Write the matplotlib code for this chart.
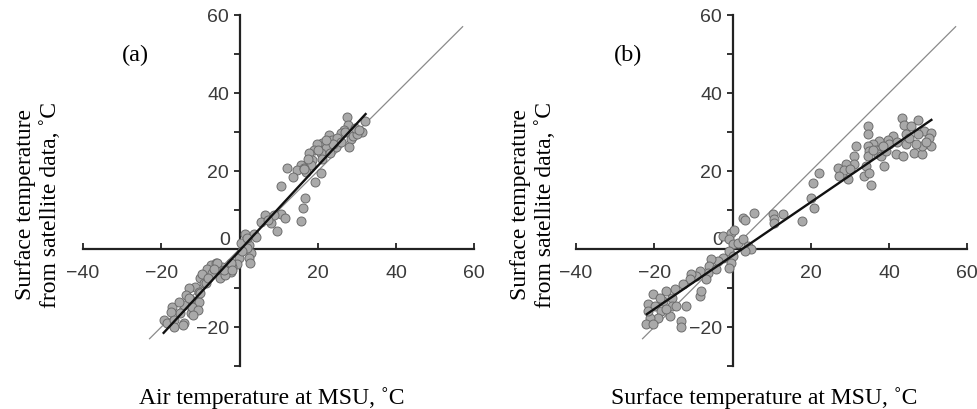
import matplotlib
matplotlib.use("Agg")
import matplotlib.pyplot as plt
import numpy as np

# ---------------- data ----------------
xa = [27.4, 27.7, 32.0, 31.4, 26.7, 25.8, 28.4, 28.0, 22.8, 23.7, 21.1, 19.9, 19.0, 22.0, 24.6,
      17.7, 20.7, 18.6, 18.2, 15.6, 14.8, 16.4, 17.1, 12.2, 13.7, 19.4, 20.7, 10.7, 16.7, 16.3,
      15.8, 10.7, 11.5, 9.6, 8.1, 6.6, 8.8, 5.4, 7.2, 25.0, 26.0, 29.0, 23.0, 21.0, 24.0, 30.0,
      27.0, 22.0, 20.0, 16.5, 17.5, 29.5, 30.5,
      1.5, 3.7, 0.3, 2.4, 2.8, 2.4, 2.6, 1.8, 4.1, 2.0, -0.2, -0.6, -1.9, -2.3, 0.5,
      -4.4, -5.3, -7.4, -6.1, -8.3, -7.0, -4.9, -3.6, -5.7, -4.0, -10.0, -9.1, -11.3, -10.4,
      -13.0, -13.8, -12.5, -14.2, -11.7, -10.4, -12.5, -15.1, -17.2, -17.6, -19.4, -18.5, -16.8,
      -14.2, -16.8, -14.4, -12.1, -10.5, -11.8, -10.0, -8.7, -2.3, -1.9, -6.5, -9.5, -8.0,
      -15.5, -13.0]
ya = [33.8, 31.8, 32.9, 30.1, 30.5, 29.7, 28.1, 26.2, 29.2, 27.9, 27.3, 26.8, 25.4, 25.8, 26.2,
      24.7, 24.5, 22.8, 21.5, 21.5, 20.3, 20.7, 19.8, 20.7, 18.4, 17.3, 19.4, 16.2, 13.2, 10.4,
      7.2, 9.0, 7.9, 4.6, 6.6, 8.7, 8.7, 7.0, 7.5, 28.5, 27.5, 29.0, 24.5, 23.0, 27.0, 29.5,
      30.0, 28.0, 25.5, 20.5, 23.0, 31.0, 30.5,
      3.8, 3.8, 1.5, 1.0, -1.1, -2.2, -3.5, 2.7, 3.2, 0.2, -2.4, -3.9, -4.5, -5.8, -0.5,
      -4.5, -5.4, -4.1, -3.7, -5.0, -6.2, -7.5, -6.7, -3.7, -5.4, -7.5, -8.8, -9.7, -11.0,
      -10.1, -11.8, -13.1, -14.4, -14.8, -13.5, -16.5, -16.5, -14.8, -16.1, -18.2, -19.1, -18.2,
      -19.1, -19.9, -19.5, -14.8, -15.6, -16.9, -11.4, -8.8, -3.7, -5.4, -5.0, -6.5, -7.5,
      -13.5, -12.5]

xb = [43.3, 47.5, 43.9, 45.6, 49.0, 50.7, 50.3, 47.3, 44.3, 40.9, 39.6, 37.5, 36.0, 34.5, 34.9,
      36.7, 37.1, 34.5, 37.9, 39.2, 41.8, 43.5, 44.3, 46.4, 48.5, 48.5, 50.7, 47.0, 34.5, 34.5,
      31.6, 31.1, 31.1, 29.0, 26.9, 28.6, 30.0, 27.3, 29.4, 34.1, 33.7, 34.9, 35.4, 38.8, 22.0,
      20.5, 20.1, 20.7, 17.8, 12.8, 10.3, 10.7, 10.5, 5.6, 2.6, 3.3, 40.0, 42.0, 45.0, 36.0,
      38.5, 49.5,
      -2.5, -0.3, 0.3, -0.8, 0.0, 1.4, 2.6, 3.9, 4.8, 3.1, -0.8, 0.0, -0.3, -0.8, -2.5, -3.7,
      -5.4, -5.9, -4.2, -6.3, -6.7, -8.4, -9.3, -10.5, -11.0, -8.2, -12.7, -14.8, -16.9, -15.6,
      -17.8, -20.3, -21.6, -19.9, -18.2, -15.6, -14.4, -16.1, -19.1, -21.2, -22.0, -20.3, -13.1,
      -13.1, -8.0, -18.5, -17.0, -21.5, -12.0]
yb = [33.7, 33.0, 31.8, 31.5, 30.3, 29.8, 28.5, 29.4, 29.6, 29.0, 27.9, 27.7, 27.0, 26.4, 25.1,
      25.3, 24.3, 23.8, 23.8, 25.1, 24.3, 23.8, 26.8, 24.7, 24.3, 26.4, 26.4, 27.0, 31.5, 29.6,
      26.4, 23.8, 21.7, 21.7, 20.8, 20.2, 20.5, 18.7, 17.9, 21.3, 18.7, 19.6, 16.4, 21.3, 19.6,
      17.0, 13.2, 10.4, 7.2, 9.1, 8.9, 7.6, 6.7, 9.3, 8.0, 7.4, 27.0, 27.5, 28.5, 25.5,
      26.5, 27.5,
      3.3, 4.2, 5.0, 2.5, 1.2, 1.6, 2.5, 0.8, -0.1, -0.5, -0.5, -1.8, -3.5, -4.8, -2.2, -3.1,
      -2.6, -4.4, -5.2, -6.1, -7.8, -5.6, -6.9, -6.5, -7.8, -12.0, -9.1, -10.3, -10.8, -12.5,
      -13.3, -11.6, -14.2, -14.6, -15.9, -14.6, -14.6, -17.2, -17.6, -17.6, -19.3, -19.3, -18.5,
      -19.9, -10.8, -12.5, -15.5, -16.0, -14.5]

# 1:1 lines and regression lines (end points)
one_a_x, one_a_y = [-23, 57], [-23, 57]
fit_a_x, fit_a_y = [-19.4, 32.2], [-21.5, 34.6]
one_b_x, one_b_y = [-23, 57], [-23, 57]
fit_b_x, fit_b_y = [-21.9, 50.8], [-16.7, 33.1]

x_major = [-40, -20, 20, 40, 60]
x_labels = ["\u221240", "\u221220", "20", "40", "60"]
y_all = [-30, -20, -10, 10, 20, 30, 40, 50, 60]
y_labeled = [-20, 20, 40, 60]

panels = [
    dict(x=xa, y=ya, one=(one_a_x, one_a_y), fit=(fit_a_x, fit_a_y), tag="(a)",
         xlabel="Air temperature at MSU, \u02daC", left=75.2),
    dict(x=xb, y=yb, one=(one_b_x, one_b_y), fit=(fit_b_x, fit_b_y), tag="(b)",
         xlabel="Surface temperature at MSU, \u02daC", left=568.2),
]

W, H = 978, 410
fig = plt.figure(figsize=(W / 100, H / 100), dpi=100)

serif = "Liberation Serif"
sans = "Liberation Sans"
axcol = "#222222"
tickcol = "#3a3a3a"

ylab_x = [38, 533]
xlab_x = [272, 764]

for i, p in enumerate(panels):
    left_px = p["left"]
    width_px = 407.0
    top_px, bot_px = 8.2, 374.8
    ax = fig.add_axes([left_px / W, (H - bot_px) / H, width_px / W, (bot_px - top_px) / H])
    ax.set_xlim(-42, 62)
    ax.set_ylim(-32, 62)

    for s in ["top", "right"]:
        ax.spines[s].set_visible(False)
    ax.spines["left"].set_position(("data", 0))
    ax.spines["bottom"].set_position(("data", 0))
    ax.spines["left"].set_bounds(-30, 60)
    ax.spines["bottom"].set_bounds(-40, 60)
    for s in ["left", "bottom"]:
        ax.spines[s].set_linewidth(1.6)
        ax.spines[s].set_color(axcol)

    ax.set_xticks(x_major)
    ax.set_xticklabels(x_labels)
    ax.tick_params(axis="x", direction="in", length=4.5, width=1.3, color=axcol,
                   pad=11, labelsize=14, labelcolor=tickcol)
    ax.set_yticks(y_all)
    ax.set_yticklabels(["" if v not in y_labeled else ("\u221220" if v < 0 else str(v))
                        for v in y_all])
    ax.tick_params(axis="y", direction="out", length=4.5, width=1.3, color=axcol,
                   pad=3, labelsize=14, labelcolor=tickcol)
    for lab in ax.get_xticklabels() + ax.get_yticklabels():
        lab.set_fontfamily(sans)
    ax.text(-2.4, 0.3, "0", ha="right", va="bottom", fontsize=14, family=sans,
            color=tickcol)

    ax.plot(p["one"][0], p["one"][1], color="#8a8a8a", lw=0.9, zorder=2)
    ax.scatter(p["x"], p["y"], s=42, facecolor="#a9a9a9", edgecolor="#6c6c6c",
               linewidths=0.7, zorder=3)
    ax.plot(p["fit"][0], p["fit"][1], color="#111111", lw=1.7, zorder=4)

    ax.text(-26.7, 50, p["tag"], ha="center", va="center", fontsize=17.5, family=serif)

    fig.text(ylab_x[i] / W, (H - 205) / H,
             "Surface temperature\nfrom satellite data, \u02daC",
             rotation=90, ha="center", va="center", fontsize=17, family=serif,
             multialignment="center", linespacing=1.2)
    fig.text(xlab_x[i] / W, (H - 398) / H, p["xlabel"], ha="center", va="center",
             fontsize=17, family=serif)

fig.savefig("out.png", dpi=100)
